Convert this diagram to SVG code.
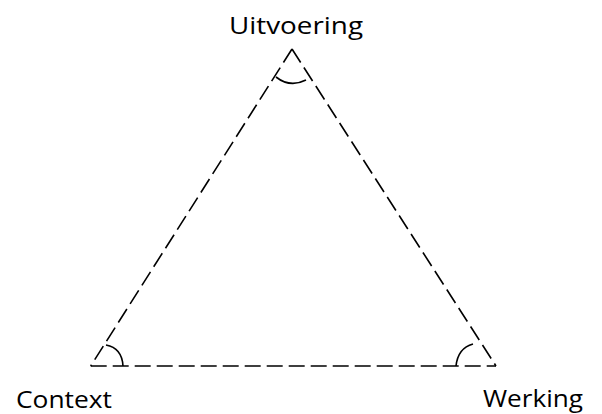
<svg xmlns="http://www.w3.org/2000/svg" width="602" height="414" viewBox="0 0 602 414">
<style>
.edge{fill:none;stroke:#000;stroke-width:1.6;stroke-dasharray:16 6}
.arc{fill:none;stroke:#000;stroke-width:1.6}
.lbl{font-family:"Open Sans","Liberation Sans",sans-serif;font-size:24.5px;fill:#000}
</style>
<rect width="602" height="414" fill="#fff"/>
<g id="connectors">
<line class="edge" x1="292" y1="49" x2="90.7" y2="366"/>
<line class="edge" x1="292" y1="49" x2="496" y2="366"/>
<line class="edge" x1="90.7" y1="366" x2="496" y2="366"/>
</g>
<g id="uitvoering">
<path class="arc" d="M276,77 Q290,88 306,80"/>
<text class="lbl" x="229" y="34" textLength="134" lengthAdjust="spacingAndGlyphs">Uitvoering</text>
</g>
<g id="context">
<path class="arc" d="M106,345 Q122,348 123,366"/>
<text class="lbl" x="16" y="407.5" textLength="96" lengthAdjust="spacingAndGlyphs">Context</text>
</g>
<g id="werking">
<path class="arc" d="M456,366 Q458,348 473,344"/>
<text class="lbl" x="483" y="407" textLength="100" lengthAdjust="spacingAndGlyphs">Werking</text>
</g>
</svg>
